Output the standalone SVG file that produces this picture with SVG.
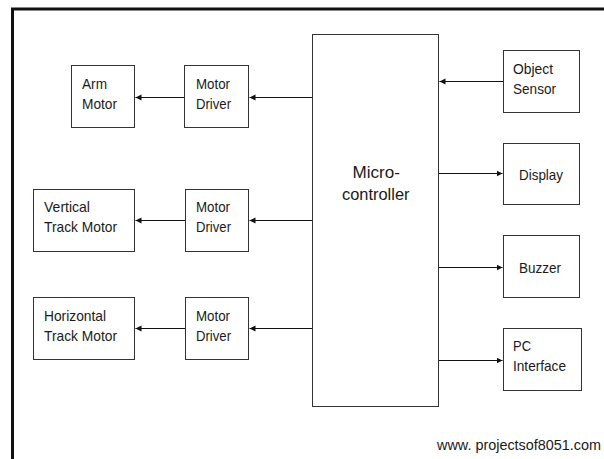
<svg xmlns="http://www.w3.org/2000/svg" width="604" height="459" viewBox="0 0 604 459">
<style>
.box{fill:#fff;stroke:#333;stroke-width:1}
.t{font-family:"Liberation Sans",Arial,sans-serif;font-size:15px;fill:#1a1a1a}
.big{font-size:17px}
.wm{font-size:14px}
.c{fill:none;stroke:#111;stroke-width:1.2}
</style>
<defs>
<marker id="ah" markerUnits="userSpaceOnUse" markerWidth="7" markerHeight="7" refX="6" refY="3" orient="auto">
<path d="M0,0 L6,3 L0,6 z" fill="#111"/>
</marker>
</defs>
<rect width="604" height="459" fill="#fff"/>
<path d="M12.5,459 V9 H604" fill="none" stroke="#111" stroke-width="3"/>
<g id="connectors">
<path class="c" d="M312.5,97.5 H249.5" marker-end="url(#ah)"/>
<path class="c" d="M184.5,97.5 H135.5" marker-end="url(#ah)"/>
<path class="c" d="M312.5,220.5 H249.5" marker-end="url(#ah)"/>
<path class="c" d="M185.5,220.5 H135.5" marker-end="url(#ah)"/>
<path class="c" d="M312.5,328.5 H249.5" marker-end="url(#ah)"/>
<path class="c" d="M185.5,328.5 H135.5" marker-end="url(#ah)"/>
<path class="c" d="M503.5,81.5 H439.5" marker-end="url(#ah)"/>
<path class="c" d="M438.5,173.5 H502.5" marker-end="url(#ah)"/>
<path class="c" d="M438.5,267.5 H502.5" marker-end="url(#ah)"/>
<path class="c" d="M438.5,360.5 H502.5" marker-end="url(#ah)"/>
</g>
<g id="arm-motor">
<rect class="box" x="71.5" y="65.5" width="63" height="62"/>
<text class="t" x="82" y="89" textLength="25" lengthAdjust="spacingAndGlyphs">Arm</text>
<text class="t" x="82" y="109" textLength="35" lengthAdjust="spacingAndGlyphs">Motor</text>
</g>
<g id="motor-driver-1">
<rect class="box" x="184.5" y="65.5" width="64" height="62"/>
<text class="t" x="196" y="88.5" textLength="34" lengthAdjust="spacingAndGlyphs">Motor</text>
<text class="t" x="196" y="108.5" textLength="35" lengthAdjust="spacingAndGlyphs">Driver</text>
</g>
<g id="vertical-track-motor">
<rect class="box" x="33.5" y="189.5" width="101" height="62"/>
<text class="t" x="44" y="212" textLength="46" lengthAdjust="spacingAndGlyphs">Vertical</text>
<text class="t" x="44" y="232" textLength="73" lengthAdjust="spacingAndGlyphs">Track Motor</text>
</g>
<g id="motor-driver-2">
<rect class="box" x="185.5" y="189.5" width="63" height="62"/>
<text class="t" x="196" y="212" textLength="34" lengthAdjust="spacingAndGlyphs">Motor</text>
<text class="t" x="196" y="232" textLength="35" lengthAdjust="spacingAndGlyphs">Driver</text>
</g>
<g id="horizontal-track-motor">
<rect class="box" x="33.5" y="297.5" width="101" height="62"/>
<text class="t" x="44" y="320.5" textLength="62" lengthAdjust="spacingAndGlyphs">Horizontal</text>
<text class="t" x="44" y="340.5" textLength="73" lengthAdjust="spacingAndGlyphs">Track Motor</text>
</g>
<g id="motor-driver-3">
<rect class="box" x="185.5" y="297.5" width="63" height="62"/>
<text class="t" x="196" y="320.5" textLength="34" lengthAdjust="spacingAndGlyphs">Motor</text>
<text class="t" x="196" y="340.5" textLength="35" lengthAdjust="spacingAndGlyphs">Driver</text>
</g>
<g id="microcontroller">
<rect class="box" x="312.5" y="34.5" width="126" height="372"/>
<text class="t big" x="352.5" y="178" textLength="47.5" lengthAdjust="spacingAndGlyphs">Micro-</text>
<text class="t big" x="342" y="199.5" textLength="67.5" lengthAdjust="spacingAndGlyphs">controller</text>
</g>
<g id="object-sensor">
<rect class="box" x="503.5" y="50.5" width="76" height="62"/>
<text class="t" x="513" y="74" textLength="40" lengthAdjust="spacingAndGlyphs">Object</text>
<text class="t" x="513" y="94" textLength="43" lengthAdjust="spacingAndGlyphs">Sensor</text>
</g>
<g id="display">
<rect class="box" x="503.5" y="143.5" width="76" height="61"/>
<text class="t" x="519" y="180" textLength="44" lengthAdjust="spacingAndGlyphs">Display</text>
</g>
<g id="buzzer">
<rect class="box" x="503.5" y="235.5" width="76" height="62"/>
<text class="t" x="519" y="273" textLength="42" lengthAdjust="spacingAndGlyphs">Buzzer</text>
</g>
<g id="pc-interface">
<rect class="box" x="503.5" y="328.5" width="78" height="62"/>
<text class="t" x="513" y="350.5" textLength="18" lengthAdjust="spacingAndGlyphs">PC</text>
<text class="t" x="513" y="370.5" textLength="53" lengthAdjust="spacingAndGlyphs">Interface</text>
</g>
<text class="t wm" x="437" y="449.5" textLength="164" lengthAdjust="spacingAndGlyphs">www. projectsof8051.com</text>
</svg>
